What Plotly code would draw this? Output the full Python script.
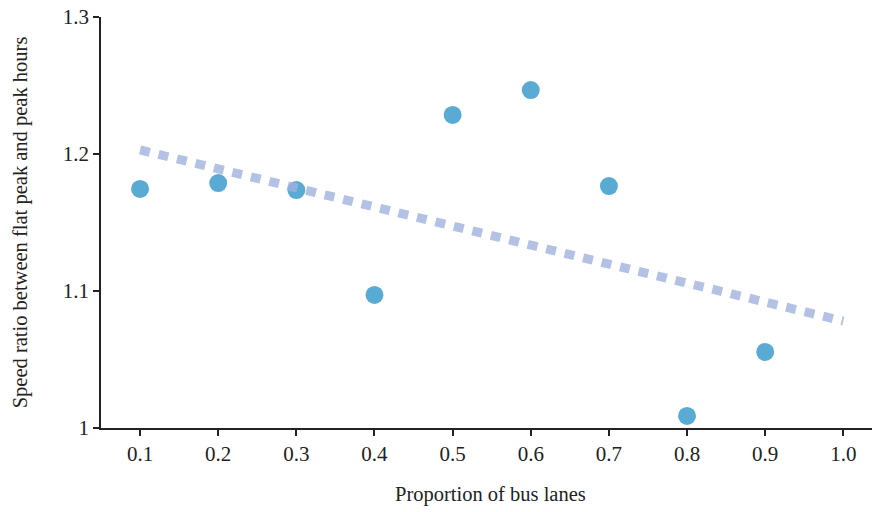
import plotly.graph_objects as go

# Share of bus lanes vs. speed ratio (flat peak / peak hours)
bus_lane_share = [0.1, 0.2, 0.3, 0.4, 0.5, 0.6, 0.7, 0.8, 0.9]
speed_ratio = [1.1745, 1.1788, 1.1737, 1.0971, 1.2285, 1.2467, 1.1766, 1.0088, 1.0555]

# Linear trend endpoints
trend_x = [0.1, 1.0]
trend_y = [1.203, 1.078]

x_ticks = [0.1, 0.2, 0.3, 0.4, 0.5, 0.6, 0.7, 0.8, 0.9, 1.0]
y_ticks = [1.0, 1.1, 1.2, 1.3]
y_tick_text = ["1", "1.1", "1.2", "1.3"]

font_family = "Liberation Serif, DejaVu Serif, serif"

fig = go.Figure()
fig.add_trace(go.Scatter(
    x=bus_lane_share, y=speed_ratio, mode="markers",
    marker=dict(size=18, color="#5aabd3", line=dict(width=0)),
    showlegend=False,
))
fig.add_trace(go.Scatter(
    x=trend_x, y=trend_y, mode="lines",
    line=dict(color="rgba(160,178,222,0.8)", width=9, dash="10px,9px"),
    showlegend=False,
))

fig.update_layout(
    width=872, height=512,
    margin=dict(l=101, r=0, t=17, b=84),
    plot_bgcolor="white", paper_bgcolor="white",
    font=dict(family=font_family, size=21, color="#222"),
    xaxis=dict(
        range=[0.05, 1.0367], tickvals=x_ticks, tickformat=".1f",
        showgrid=False, zeroline=False, showline=True, linecolor="#222", linewidth=1.5,
        ticks="outside", ticklen=6, tickcolor="#222", tickwidth=1.5,
        tickfont=dict(size=21),
    ),
    yaxis=dict(
        range=[1.0, 1.3], tickvals=y_ticks, ticktext=y_tick_text,
        showgrid=False, zeroline=False, showline=True, linecolor="#222", linewidth=1.5,
        ticks="outside", ticklen=6, tickcolor="#222", tickwidth=1.5,
        tickfont=dict(size=21),
        title=dict(text="Speed ratio between flat peak and peak hours",
                   font=dict(size=20.5), standoff=30),
    ),
    annotations=[dict(
        text="Proportion of bus lanes", xref="paper", yref="paper",
        x=0.5058, y=-0.163, xanchor="center", yanchor="middle",
        showarrow=False, font=dict(size=20.5),
    )],
)

fig.write_html("out.html")
